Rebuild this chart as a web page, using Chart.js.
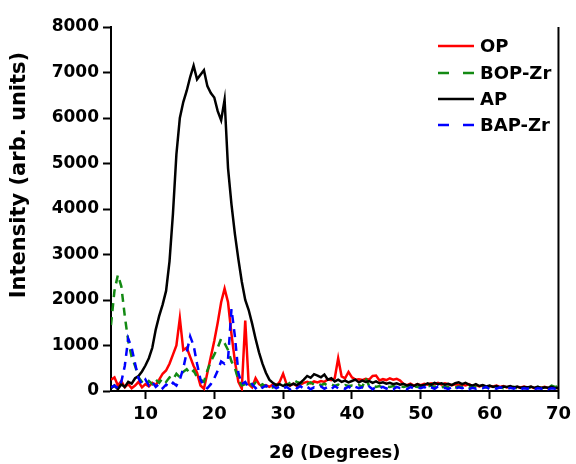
<!DOCTYPE html>
<html>
<head>
<meta charset="utf-8">
<script src="https://cdn.jsdelivr.net/npm/chart.js@4.4.1/dist/chart.umd.min.js"></script>
<style>
  html, body { margin: 0; padding: 0; background: #fff; }
  #wrap { width: 576px; height: 464px; }
</style>
</head>
<body>
<div id="wrap"><canvas id="xrdChart" width="576" height="464"></canvas></div>
<script>
// 2theta grid (degrees)
const theta = [5,5.5,6,6.5,7,7.5,8,8.5,9,9.5,
  10,10.5,11,11.5,12,12.5,13,13.5,14,14.5,
  15,15.5,16,16.5,17,17.5,18,18.5,19,19.5,
  20,20.5,21,21.5,22,22.5,23,23.5,24,24.5,
  25,25.5,26,26.5,27,27.5,28,28.5,29,29.5,
  30,30.5,31,31.5,32,32.5,33,33.5,34,34.5,
  35,35.5,36,36.5,37,37.5,38,38.5,39,39.5,
  40,40.5,41,41.5,42,42.5,43,43.5,44,44.5,
  45,45.5,46,46.5,47,47.5,48,48.5,49,49.5,
  50,50.5,51,51.5,52,52.5,53,53.5,54,54.5,
  55,55.5,56,56.5,57,57.5,58,58.5,59,59.5,
  60,60.5,61,61.5,62,62.5,63,63.5,64,64.5,
  65,65.5,66,66.5,67,67.5,68,68.5,69,69.5,
  70];

const opValues = [250,300,120,220,80,150,60,120,200,80,
  150,100,180,130,250,380,450,600,800,1000,
  1600,900,950,750,550,400,120,50,400,750,
  1100,1500,1950,2250,1950,1250,650,200,50,1550,
  150,80,280,150,100,130,90,140,110,200,
  380,150,120,160,110,140,180,200,170,210,
  190,220,200,260,240,280,720,320,280,420,
  300,250,260,240,270,250,330,340,230,260,
  240,280,250,270,230,150,130,160,120,150,
  130,160,140,170,150,180,140,170,150,130,
  150,130,140,120,150,110,130,100,120,90,
  110,100,120,90,110,80,100,70,90,80,
  100,70,90,60,80,70,90,60,80,70,
  60];

const bopZrValues = [1450,2200,2550,2300,1650,1100,750,550,300,200,
  130,220,150,250,180,280,200,300,250,380,
  300,420,480,380,450,300,250,200,450,650,
  800,950,1150,1050,900,650,500,250,120,150,
  200,120,180,90,150,100,130,80,140,110,
  160,120,180,240,200,170,220,150,190,140,
  170,130,160,120,150,110,140,100,130,110,
  120,100,130,90,280,110,120,90,110,80,
  100,90,110,80,100,90,110,80,100,90,
  110,80,100,120,90,110,80,100,90,110,
  80,100,90,110,80,100,90,70,90,80,
  100,70,90,80,60,80,70,90,60,80,
  70,60,80,70,90,60,80,70,120,90,
  100];

const apValues = [60,120,40,150,90,200,160,280,330,430,
  560,720,950,1350,1650,1900,2200,2850,3900,5200,
  6000,6350,6600,6900,7150,6850,6950,7050,6700,6550,
  6450,6150,5950,6400,4900,4100,3450,2900,2400,2000,
  1780,1480,1150,850,600,400,250,180,130,150,
  110,140,120,160,130,180,250,330,290,370,
  340,300,360,250,280,210,250,200,230,190,
  220,250,190,230,200,220,180,210,170,190,
  160,180,150,170,140,160,120,140,110,150,
  120,130,170,140,180,150,170,140,160,130,
  170,190,150,180,140,120,150,110,130,100,
  120,90,110,80,100,90,110,80,100,70,
  90,80,100,70,90,60,80,70,90,60,
  70];

const bapZrValues = [80,120,60,200,550,1150,950,600,280,150,
  250,120,200,90,160,60,140,90,180,120,
  250,500,850,1200,1000,600,250,100,60,150,
  280,450,650,600,700,1800,1200,400,150,200,
  80,150,60,130,70,120,50,110,60,100,
  50,90,40,100,60,110,50,90,40,80,
  60,100,50,90,40,110,60,80,50,100,
  40,90,60,80,50,100,40,80,60,90,
  50,80,40,90,60,70,40,90,50,80,
  60,90,40,80,50,100,60,70,40,90,
  50,80,60,90,40,70,50,80,60,90,
  40,70,50,80,60,40,70,50,80,40,
  60,50,70,40,60,50,80,40,60,50,
  50];

const seriesNames = ['OP', 'BOP-Zr', 'AP', 'BAP-Zr'];
const xTicks = [10, 20, 30, 40, 50, 60, 70];
const yTitle = 'Intensity (arb. units)';

const FONT = '"DejaVu Sans", sans-serif';

function toPoints(vals) {
  return theta.map((t, i) => ({ x: t, y: vals[i] }));
}

// 범례 (플롯 안 오른쪽 위)
const insideLegend = {
  id: 'insideLegend',
  afterDraw(chart) {
    const ctx = chart.ctx;
    const rows = [46, 73, 99, 125];
    ctx.save();
    chart.data.datasets.forEach((ds, i) => {
      const y = rows[i];
      ctx.strokeStyle = ds.borderColor;
      ctx.lineWidth = 2.5;
      ctx.setLineDash(ds.borderDash && ds.borderDash.length ? [11, 14] : []);
      ctx.beginPath();
      ctx.moveTo(438, y);
      ctx.lineTo(474, y);
      ctx.stroke();
      ctx.setLineDash([]);
      ctx.fillStyle = '#000';
      ctx.font = 'bold 18px ' + FONT;
      ctx.textBaseline = 'middle';
      ctx.textAlign = 'left';
      ctx.fillText(ds.label, 480, y + 1);
    });
    ctx.restore();
  }
};

// 오른쪽 테두리 + y축 제목
const frameExtras = {
  id: 'frameExtras',
  afterDraw(chart) {
    const a = chart.chartArea;
    const ctx = chart.ctx;
    ctx.save();
    ctx.strokeStyle = '#000';
    ctx.lineWidth = 2;
    ctx.beginPath();
    ctx.moveTo(a.right, a.top);
    ctx.lineTo(a.right, a.bottom + 1);
    ctx.stroke();

    ctx.translate(20, 175);
    ctx.rotate(-Math.PI / 2);
    ctx.fillStyle = '#000';
    ctx.font = 'bold 21px ' + FONT;
    ctx.textAlign = 'center';
    ctx.textBaseline = 'middle';
    ctx.fillText(yTitle, 0, 0);
    ctx.restore();
  }
};

const ctx = document.getElementById('xrdChart').getContext('2d');
new Chart(ctx, {
  type: 'line',
  data: {
    datasets: [
      { label: seriesNames[0], data: toPoints(opValues), borderColor: '#ff0000', borderWidth: 2.5, order: 4 },
      { label: seriesNames[1], data: toPoints(bopZrValues), borderColor: '#138a13', borderWidth: 2.5, borderDash: [8, 6], order: 3 },
      { label: seriesNames[2], data: toPoints(apValues), borderColor: '#000000', borderWidth: 2.5, order: 2 },
      { label: seriesNames[3], data: toPoints(bapZrValues), borderColor: '#0000ff', borderWidth: 2.5, borderDash: [8, 6], order: 1 }
    ]
  },
  options: {
    responsive: false,
    animation: false,
    devicePixelRatio: 1,
    layout: { padding: { left: 0, right: 13, top: 27, bottom: 0 } },
    elements: { point: { radius: 0 }, line: { tension: 0, fill: false } },
    plugins: {
      legend: { display: false },
      tooltip: { enabled: false }
    },
    scales: {
      x: {
        type: 'linear',
        min: 5,
        max: 70,
        afterBuildTicks: (scale) => { scale.ticks = xTicks.map(v => ({ value: v })); },
        afterFit: (scale) => { scale.height = 73; },
        grid: { drawOnChartArea: false, drawTicks: true, tickLength: 8, tickColor: '#000', tickWidth: 2 },
        border: { display: true, color: '#000', width: 2 },
        ticks: { color: '#000', font: { family: FONT, size: 18, weight: 'bold' }, padding: 5, maxRotation: 0 },
        title: { display: true, text: '2θ (Degrees)', color: '#000', font: { family: FONT, size: 18, weight: 'bold' }, padding: { top: 9, bottom: 0 } }
      },
      y: {
        min: 0,
        max: 8000,
        afterFit: (scale) => { scale.width = 111; },
        grid: { drawOnChartArea: false, drawTicks: true, tickLength: 8, tickColor: '#000', tickWidth: 2 },
        border: { display: true, color: '#000', width: 2 },
        ticks: { stepSize: 1000, color: '#000', font: { family: FONT, size: 17, weight: 'bold' }, padding: 4,
          callback: (v) => String(v) }
      }
    }
  },
  plugins: [insideLegend, frameExtras]
});
</script>
</body>
</html>
